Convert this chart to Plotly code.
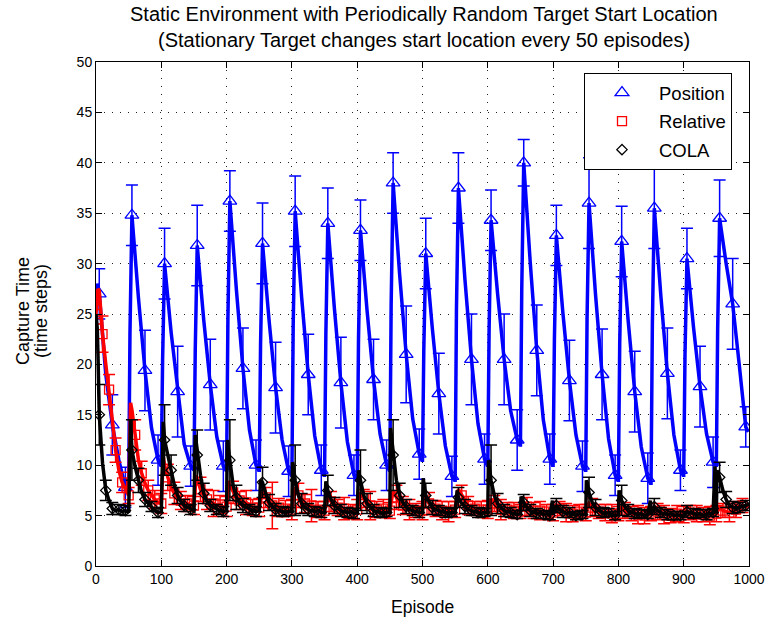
import plotly.graph_objects as go

# ---------------- data ----------------
CYCLE = 50
N_CYCLES = 20

# Position: values at these offsets inside every 50-episode cycle
pos_offsets = [0, 2, 4, 5, 15, 25, 35, 45, 49]
pos_cycles = [
    [26.0, 28.0, 27.5, 27.0, 19.0, 14.0, 10.5, 7.8, 7.3],
    [7.5, 23.0, 33.8, 34.8, 26.6, 19.4, 13.7, 10.5, 10.0],
    [10.0, 20.5, 29.3, 30.0, 23.2, 17.3, 12.1, 9.9, 9.5],
    [9.5, 21.5, 31.0, 31.8, 24.4, 18.0, 12.8, 9.9, 9.5],
    [9.5, 24.5, 35.3, 36.2, 27.4, 19.6, 13.5, 10.0, 9.5],
    [9.5, 22.0, 31.2, 32.0, 24.4, 17.7, 12.5, 9.4, 9.0],
    [9.0, 24.0, 34.4, 35.2, 26.6, 19.0, 12.9, 9.5, 9.0],
    [9.0, 23.0, 33.2, 34.0, 25.6, 18.2, 12.3, 9.0, 8.5],
    [8.5, 22.5, 32.5, 33.3, 25.4, 18.5, 13.1, 10.0, 9.5],
    [9.5, 26.0, 37.0, 38.0, 28.9, 21.0, 14.6, 11.1, 10.5],
    [10.5, 21.5, 30.2, 31.0, 23.6, 17.1, 11.9, 8.9, 8.5],
    [8.5, 25.5, 36.6, 37.5, 28.4, 20.5, 14.1, 10.6, 10.0],
    [10.0, 23.5, 33.5, 34.3, 27.0, 20.5, 15.4, 12.5, 12.0],
    [12.0, 27.5, 39.0, 40.0, 30.1, 21.4, 14.5, 10.6, 10.0],
    [10.0, 22.5, 32.0, 32.8, 25.1, 18.4, 13.0, 9.9, 9.5],
    [9.5, 24.5, 35.2, 36.0, 26.9, 19.0, 12.6, 9.0, 8.5],
    [8.5, 22.0, 31.4, 32.2, 24.3, 17.3, 11.8, 8.7, 8.2],
    [8.2, 24.0, 34.6, 35.5, 26.8, 19.1, 13.0, 9.5, 9.0],
    [9.0, 21.0, 29.8, 30.5, 23.7, 17.8, 13.1, 10.3, 10.0],
    [10.0, 23.5, 33.8, 34.5, 30.0, 26.0, 20.0, 13.8, 13.3],
]
pos_marker_offsets = [5, 25, 45]
pos_err = [
    2.5, 3.0, 2.0, 3.0, 4.0, 2.5, 3.5, 4.5, 2.0, 4.0, 4.5, 2.5,
    3.0, 4.0, 2.5, 4.0, 4.5, 2.5, 3.5, 4.0, 2.5, 3.5, 4.5, 2.0,
    3.0, 4.0, 2.5, 3.0, 4.8, 2.5, 3.5, 4.0, 2.0, 3.5, 4.5, 2.5,
    3.0, 4.5, 3.0, 2.3, 4.5, 2.5, 3.0, 4.0, 2.5, 4.5, 4.5, 2.0,
    3.5, 4.0, 2.5, 4.0, 4.5, 2.0, 3.0, 4.0, 2.5, 3.8, 4.5, 2.0,
]

# Relative: values every 5 episodes (10 per cycle), plus episode 1000
rel_step = 5
rel_cycles = [
    [25.0, 27.3, 23.0, 20.0, 17.5, 14.5, 11.5, 9.5, 8.3, 7.6],
    [7.0, 15.5, 13.0, 10.5, 9.2, 8.2, 7.5, 7.0, 6.6, 6.3],
    [6.2, 10.0, 8.8, 7.8, 7.2, 6.8, 6.5, 6.3, 6.2, 6.0],
    [6.0, 8.5, 7.6, 7.0, 6.6, 6.4, 6.2, 6.0, 6.1, 5.8],
    [5.9, 8.0, 7.3, 6.8, 6.5, 6.2, 6.3, 6.0, 5.8, 5.7],
    [5.8, 7.4, 6.8, 6.3, 6.0, 6.1, 5.8, 5.6, 5.7, 5.5],
    [5.6, 7.8, 7.0, 6.5, 6.2, 5.9, 6.0, 5.7, 5.6, 5.5],
    [5.5, 6.8, 6.4, 6.0, 5.8, 5.6, 5.7, 5.5, 5.4, 5.5],
    [5.6, 7.3, 6.7, 6.3, 6.0, 5.8, 5.6, 5.5, 5.7, 5.4],
    [5.5, 7.5, 6.8, 6.3, 6.0, 5.8, 5.6, 5.7, 5.5, 5.4],
    [5.5, 6.8, 6.2, 5.9, 5.7, 5.6, 5.5, 5.6, 5.4, 5.5],
    [5.6, 7.6, 7.0, 6.5, 6.0, 5.8, 5.7, 5.5, 5.6, 5.5],
    [5.6, 6.6, 6.2, 5.8, 5.6, 5.5, 5.6, 5.4, 5.5, 5.3],
    [5.4, 6.3, 5.9, 5.6, 5.5, 5.4, 5.5, 5.3, 5.4, 5.2],
    [5.3, 6.0, 5.7, 5.5, 5.3, 5.4, 5.2, 5.3, 5.4, 5.2],
    [5.3, 6.2, 5.8, 5.5, 5.4, 5.2, 5.3, 5.1, 5.2, 5.3],
    [5.2, 5.8, 5.5, 5.3, 5.2, 5.3, 5.1, 5.2, 5.0, 5.1],
    [5.2, 5.6, 5.4, 5.3, 5.1, 5.2, 5.0, 5.1, 5.2, 5.0],
    [5.1, 5.4, 5.3, 5.1, 5.2, 5.0, 5.1, 5.2, 5.0, 5.1],
    [5.2, 5.8, 5.5, 5.4, 5.3, 5.5, 5.6, 5.8, 6.0, 5.9],
]
rel_last = 6.0
rel_extra_ep = [3, 53, 103, 153, 203]
rel_extra_val = [27.5, 16.2, 10.8, 9.0, 8.3]
rel_err = [
    1.0, 1.8, 1.5, 1.2, 1.0, 0.8, 1.5, 1.2, 1.0, 0.9,
    1.0, 1.3, 1.1, 0.9, 0.8, 0.9, 1.2, 1.0, 1.3, 0.9,
    1.0, 1.1, 0.9, 1.2, 0.8, 0.9, 1.0, 2.3, 0.9, 0.8,
    1.0, 1.2, 0.9, 1.6, 0.8, 0.9, 1.0, 0.8, 1.1, 0.7,
    1.0, 0.9, 1.4, 0.8, 0.9, 0.8, 1.2, 0.9, 1.0, 0.7,
    0.9, 1.1, 0.8, 0.9, 1.0, 0.8, 1.0, 0.9, 0.7, 0.8,
    0.9, 0.8, 1.0, 0.7, 0.8, 0.7, 0.9, 0.8, 0.9, 0.7,
    0.8, 0.7, 0.9, 0.8, 0.7, 0.8, 0.9, 0.7, 0.8, 0.9,
    0.7, 0.8, 0.7, 0.9, 0.8, 0.7, 0.8, 0.9, 0.7, 0.8,
    0.8, 0.7, 0.8, 0.7, 0.9, 0.8, 0.7, 0.9, 0.8, 0.7,
]

# COLA: values every 5 episodes (10 per cycle), plus episode 1000
cola_cycles = [
    [25.0, 15.0, 10.2, 7.5, 6.5, 5.7, 5.5, 5.6, 5.4, 5.5],
    [5.3, 11.5, 9.8, 8.5, 7.3, 6.6, 6.2, 5.9, 5.5, 5.3],
    [5.4, 12.5, 11.0, 9.5, 8.0, 7.0, 6.4, 6.0, 5.8, 5.6],
    [5.5, 11.0, 9.0, 7.2, 6.4, 6.0, 5.8, 5.6, 5.5, 5.4],
    [5.5, 10.5, 8.0, 6.8, 6.3, 6.0, 5.8, 5.6, 5.5, 5.4],
    [5.5, 8.3, 7.2, 6.3, 5.9, 5.6, 5.5, 5.4, 5.3, 5.4],
    [5.4, 8.5, 7.0, 6.2, 5.8, 5.6, 5.5, 5.4, 5.5, 5.3],
    [5.3, 7.5, 6.6, 6.0, 5.7, 5.5, 5.4, 5.3, 5.4, 5.2],
    [5.3, 8.5, 7.0, 6.2, 5.8, 5.5, 5.4, 5.3, 5.2, 5.3],
    [5.3, 11.0, 8.5, 7.0, 6.3, 5.9, 5.6, 5.5, 5.4, 5.3],
    [5.3, 7.0, 6.3, 5.8, 5.6, 5.5, 5.4, 5.3, 5.2, 5.3],
    [5.3, 6.8, 6.2, 5.9, 5.6, 5.5, 5.4, 5.3, 5.2, 5.3],
    [5.3, 8.5, 7.0, 6.2, 5.8, 5.5, 5.4, 5.3, 5.2, 5.1],
    [5.2, 6.3, 5.8, 5.5, 5.3, 5.2, 5.3, 5.1, 5.2, 5.0],
    [5.1, 6.0, 5.6, 5.4, 5.2, 5.3, 5.1, 5.0, 5.2, 5.1],
    [5.1, 7.3, 6.3, 5.8, 5.5, 5.3, 5.2, 5.3, 5.1, 5.0],
    [5.1, 6.5, 5.9, 5.5, 5.3, 5.2, 5.1, 5.2, 5.0, 5.1],
    [5.1, 5.9, 5.5, 5.3, 5.2, 5.1, 5.2, 5.0, 5.1, 5.0],
    [5.0, 5.4, 5.3, 5.2, 5.1, 5.2, 5.0, 5.1, 5.2, 5.3],
    [5.2, 8.8, 7.5, 6.6, 6.0, 5.8, 5.7, 5.8, 5.9, 6.0],
]
cola_last = 6.1
cola_extra_ep = [2, 3, 52, 53, 54, 102, 103, 104, 152, 153, 201, 202, 252,
                 301, 302, 352, 402, 451, 453, 501, 553, 601, 602, 651, 699,
                 751, 752, 801, 849, 948, 951]
cola_extra_val = [23.5, 21.0, 10.0, 14.5, 13.0, 11.0, 14.3, 13.5, 13.0, 12.5,
                  12.5, 12.0, 8.5, 10.3, 10.0, 8.4, 9.5, 13.7, 12.5, 8.7,
                  7.5, 10.5, 10.0, 6.9, 6.5, 8.5, 8.3, 7.5, 6.5, 9.9, 9.5]
cola_err = [
    3.0, 1.0, 0.6, 0.5, 0.5, 3.0, 1.2, 0.7, 0.5, 0.5,
    3.5, 1.5, 0.8, 0.6, 0.5, 2.5, 1.0, 0.6, 0.5, 0.5,
    4.0, 1.2, 0.7, 0.5, 0.5, 1.5, 0.8, 0.6, 0.5, 0.4,
    3.5, 1.0, 0.6, 0.5, 0.5, 1.5, 0.8, 0.6, 0.5, 0.5,
    3.0, 1.0, 0.6, 0.5, 0.4, 3.5, 1.2, 0.7, 0.5, 0.5,
    1.2, 0.7, 0.5, 0.5, 0.4, 1.0, 0.7, 0.5, 0.5, 0.4,
    3.5, 1.0, 0.6, 0.5, 0.4, 0.8, 0.6, 0.5, 0.4, 0.4,
    0.7, 0.6, 0.5, 0.4, 0.4, 1.5, 0.8, 0.5, 0.4, 0.4,
    1.5, 0.6, 0.5, 0.4, 0.4, 0.8, 0.5, 0.5, 0.4, 0.4,
    0.6, 0.5, 0.4, 0.5, 0.4, 1.5, 0.8, 0.6, 0.5, 0.5,
]

x_ticks = list(range(0, 1001, 100))
y_ticks = list(range(0, 51, 5))

TITLE_1 = "Static Environment with Periodically Random Target Start Location"
TITLE_2 = "(Stationary Target changes start location every 50 episodes)"
X_TITLE = "Episode"
Y_TITLE_1 = "Capture Time"
Y_TITLE_2 = "(time steps)"

# ---------------- assemble series ----------------
pos_ep, pos_val = [], []
for k, vals in enumerate(pos_cycles):
    for off, v in zip(pos_offsets, vals):
        pos_ep.append(CYCLE * k + off)
        pos_val.append(v)
pos_m_ep, pos_m_val = [], []
for k, vals in enumerate(pos_cycles):
    for off in pos_marker_offsets:
        pos_m_ep.append(CYCLE * k + off)
        pos_m_val.append(vals[pos_offsets.index(off)])


def grid_series(cycles, last):
    ep, val = [], []
    for k, vals in enumerate(cycles):
        for j, v in enumerate(vals):
            ep.append(CYCLE * k + rel_step * j)
            val.append(v)
    ep.append(CYCLE * N_CYCLES)
    val.append(last)
    return ep, val


rel_ep, rel_val = grid_series(rel_cycles, rel_last)
cola_ep, cola_val = grid_series(cola_cycles, cola_last)

rel_m_ep = [e for e in rel_ep if e % 10 == 0 and e < 1000]
rel_m_val = [rel_val[rel_ep.index(e)] for e in rel_m_ep]
cola_m_ep = [e for e in cola_ep if e % 10 == 5]
cola_m_val = [cola_val[cola_ep.index(e)] for e in cola_m_ep]


def merged(ep, val, xe, xv):
    pts = sorted(list(zip(ep, val)) + list(zip(xe, xv)))
    return [p[0] for p in pts], [p[1] for p in pts]


rel_line_ep, rel_line_val = merged(rel_ep, rel_val, rel_extra_ep, rel_extra_val)
cola_line_ep, cola_line_val = merged(cola_ep, cola_val, cola_extra_ep, cola_extra_val)

BLUE = "#0000FF"
RED = "#FF0000"
BLACK = "#000000"
FONT = "Liberation Sans, Arial, sans-serif"

# plot-area geometry in pixels
W, H = 770, 622
L, R, T, B = 96, 21, 62, 56
PW, PH = W - L - R, H - T - B


def px_x(px):
    return (px - L) / PW


def px_y(py):
    return (H - B - py) / PH


fig = go.Figure()


def add_series(name, lx, ly, mx, my, err, color, symbol, msize, group):
    fig.add_trace(go.Scatter(
        x=lx, y=ly, mode="lines", line=dict(color=color, width=3.5),
        showlegend=False, hoverinfo="skip", legendgroup=group))
    fig.add_trace(go.Scatter(
        x=mx, y=my, mode="markers", name=name, legendgroup=group,
        marker=dict(symbol=symbol, size=msize, color=color,
                    line=dict(color=color, width=1.3)),
        error_y=dict(type="data", array=err, visible=True, color=color,
                     thickness=1.5, width=6)))


add_series("Position", pos_ep, pos_val, pos_m_ep, pos_m_val, pos_err,
           BLUE, "triangle-up-open", 12, "a")
add_series("Relative", rel_line_ep, rel_line_val, rel_m_ep, rel_m_val, rel_err,
           RED, "square-open", 9, "b")
add_series("COLA", cola_line_ep, cola_line_val, cola_m_ep, cola_m_val, cola_err,
           BLACK, "diamond-open", 8, "c")

axis_common = dict(
    showline=True, linecolor="black", linewidth=1, mirror="ticks",
    ticks="inside", ticklen=6, tickcolor="black", automargin=False,
    showgrid=True, gridcolor="#222222", gridwidth=1, griddash="1px,7px",
    zeroline=False, tickfont=dict(family=FONT, size=14, color="black"),
)

annotations = [
    dict(text=TITLE_1, x=px_x(424), y=px_y(14), font=dict(size=20)),
    dict(text=TITLE_2, x=px_x(424), y=px_y(40), font=dict(size=20)),
    dict(text=X_TITLE, x=px_x(422.5), y=px_y(607), font=dict(size=17.5)),
    dict(text=Y_TITLE_1, x=px_x(23), y=px_y(311), font=dict(size=18),
         textangle=-90),
    dict(text=Y_TITLE_2, x=px_x(41), y=px_y(311), font=dict(size=18),
         textangle=-90),
]
for a in annotations:
    a.update(xref="paper", yref="paper", showarrow=False,
             xanchor="center", yanchor="middle")
    a["font"].update(family=FONT, color="black")

fig.update_layout(
    width=W, height=H,
    margin=dict(l=L, r=R, t=T, b=B, autoexpand=False),
    paper_bgcolor="white", plot_bgcolor="white",
    font=dict(family=FONT, color="black"),
    xaxis=dict(range=[0, 1000], tickvals=x_ticks, **axis_common),
    yaxis=dict(range=[0, 50], tickvals=y_ticks, **axis_common),
    annotations=annotations,
    legend=dict(x=px_x(584), y=px_y(73), xanchor="left",
                yanchor="top", bgcolor="white", bordercolor="black",
                borderwidth=1, font=dict(family=FONT, size=18.5, color="black"),
                tracegroupgap=1.5, itemwidth=64),
)

fig.write_html("out.html")
